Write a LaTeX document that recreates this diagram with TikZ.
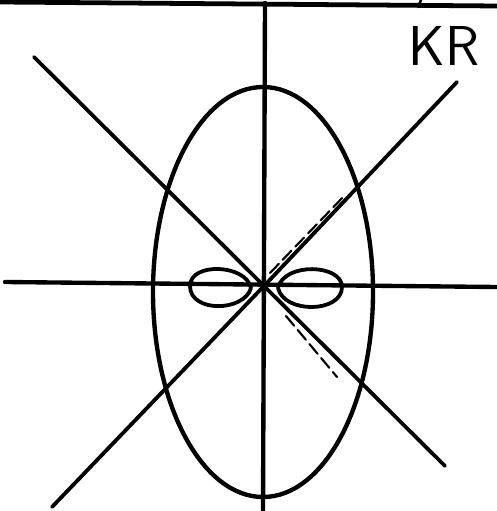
\documentclass[tikz,border=0pt]{standalone}
\usepackage{tikz}
\usetikzlibrary{positioning, calc}

\begin{document}
\begin{tikzpicture}[x=0.025cm, y=-0.025cm, line cap=round, line join=round, every node/.style={font=\sffamily}, pen/.style={line width=3.1pt}, scribble/.style={line width=1.5pt, dash pattern=on 9pt off 4pt}]
\useasboundingbox (0,0) rectangle (497,511);
\coordinate (o) at (264,286);
\draw[pen, line width=3.4pt] (0,2) -- (497,6);
\draw[pen] (265,3) -- (263,511);
\draw[pen] (5,282) -- (497,287);
\draw[pen, line width=2.7pt] (34,57) -- (o) -- (445,466);
\draw[pen, line width=2.7pt] (457,82) -- (o) -- (52,507);
\draw[pen] (263,292) ellipse [x radius=110, y radius=205];
\draw[pen, line width=2.7pt] (251,288) .. controls (246,264) and (190,262) .. (190,286) .. controls (190,313) and (244,312) .. (251,288);
\draw[pen, line width=2.7pt] (278,288) .. controls (284,262) and (342,264) .. (342,287) .. controls (342,313) and (284,314) .. (278,288);
\draw[scribble] (270,273) -- (346,194);
\draw[scribble] (286,316) -- (337,377);
\draw[pen, line width=1.8pt] (421,0) -- (418,7);
\node[font=\sffamily\fontsize{40}{40}\selectfont] (kr) at (444,46) {KR};
\end{tikzpicture}
\end{document}
